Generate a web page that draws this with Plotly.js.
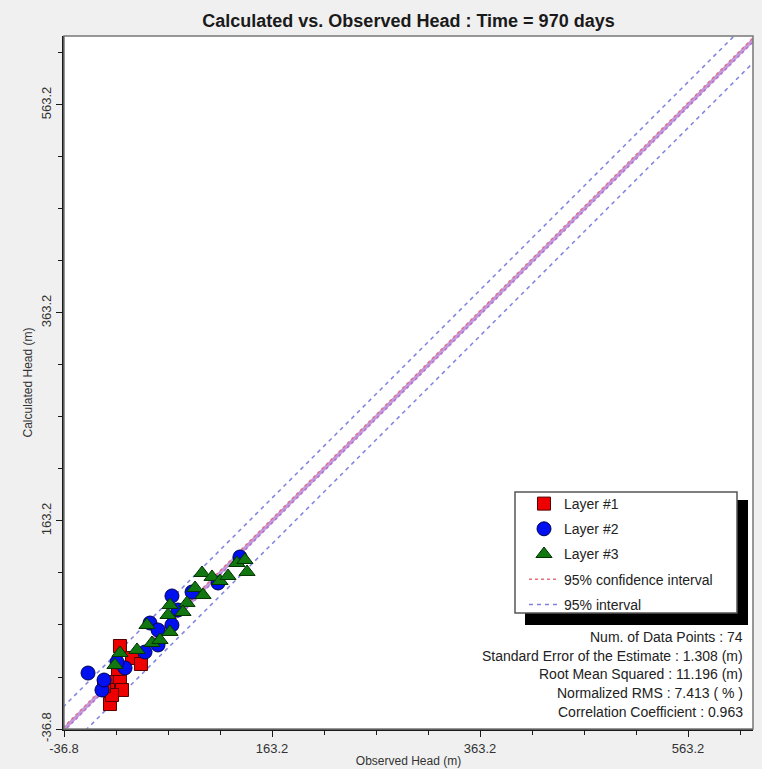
<!DOCTYPE html>
<html>
<head>
<meta charset="utf-8">
<script src="https://cdn.plot.ly/plotly-3.0.1.min.js"></script>
<style>html,body{margin:0;padding:0;background:#f0f0f0;}</style>
</head>
<body>
<div id="chart" style="width:762px;height:769px;"></div>
<script>
// ---- Data ----
const layer1X = [17.0, 28.6, 37.2, 4.5, 17.0, 19.0, 5.5, 7.4, 9.4, 15.1, 1.7];
const layer1Y = [43.0, 31.5, 25.7, 8.4, 11.3, 0.7, 0.7, -12.8, -4.1, 20.9, 4.5];

const layer2X = [-13.7, -0.3, 21.9, 41.1, 53.6, 45.9, 53.6, 67.0, 67.0, 86.3, 111.3, 132.4, 14.2, 72.8, 1.7];
const layer2Y = [17.0, 0.7, 21.9, 37.2, 44.0, 65.1, 58.4, 91.1, 63.2, 94.9, 103.6, 128.6, 27.6, 77.6, 10.3];

const layer3X = [17.0, 12.2, 33.4, 47.8, 43.0, 65.1, 63.2, 65.1, 81.5, 77.6, 89.2, 96.9, 95.9, 105.5, 113.2, 120.9, 129.5, 137.2, 139.2, 55.5];
const layer3Y = [36.3, 24.7, 39.2, 45.9, 63.2, 82.4, 72.8, 56.5, 84.4, 75.7, 98.8, 92.0, 113.2, 109.4, 105.5, 110.3, 122.8, 125.7, 114.2, 48.8];

const axisMin = -36.8;
const axisMaxX = 625.7;
const axisMaxY = 629.5;
const tickValues = [-36.8, 163.2, 363.2, 563.2];
const tickLabels = ["-36.8", "163.2", "363.2", "563.2"];

const confOffset = 2.0;      // 95% confidence interval half-width (m)
const predOffset = 22.0;     // 95% interval half-width (m)

const statLines = [
  "Num. of Data Points : 74",
  "Standard Error of the Estimate : 1.308 (m)",
  "Root Mean Squared : 11.196 (m)",
  "Normalized RMS : 7.413 ( % )",
  "Correlation Coefficient : 0.963"
];

// ---- Build traces ----
const lineX = [axisMin - 50, axisMaxX + 50];
const shift = (arr, d) => arr.map(v => v + d);

const traces = [
  {x: lineX, y: lineX, mode: 'lines', showlegend: false, hoverinfo: 'skip',
   line: {color: '#c39be0', width: 3.5}},
  {x: lineX, y: shift(lineX, confOffset), mode: 'lines', name: '95% confidence interval',
   legendgroup: 'g4', legendrank: 4, line: {color: '#e0707e', width: 1.5, dash: '3px,3px'}},
  {x: lineX, y: shift(lineX, -confOffset), mode: 'lines', showlegend: false, legendgroup: 'g4',
   line: {color: '#b070d0', width: 1.5, dash: '3px,3px'}},
  {x: lineX, y: shift(lineX, predOffset), mode: 'lines', name: '95% interval',
   legendgroup: 'g5', legendrank: 5, line: {color: '#7f80e0', width: 1.5, dash: '4px,4px'}},
  {x: lineX, y: shift(lineX, -predOffset), mode: 'lines', showlegend: false, legendgroup: 'g5',
   line: {color: '#7f80e0', width: 1.5, dash: '4px,4px'}},
  {x: layer1X, y: layer1Y, mode: 'markers', name: 'Layer #1', legendgroup: 'g1', legendrank: 1,
   marker: {symbol: 'square', size: 13, color: '#ee0000', line: {color: '#550000', width: 1}}},
  {x: layer2X, y: layer2Y, mode: 'markers', name: 'Layer #2', legendgroup: 'g2', legendrank: 2,
   marker: {symbol: 'circle', size: 14, color: '#0010ee', line: {color: '#000055', width: 1}}},
  {x: layer3X, y: layer3Y, mode: 'markers', name: 'Layer #3', legendgroup: 'g3', legendrank: 3,
   marker: {symbol: 'triangle-up', size: 14, color: '#117711', line: {color: '#003300', width: 1}}}
];

const plotL = 64, plotR = 753, plotT = 36, plotB = 729;
const pw = plotR - plotL, ph = plotB - plotT;
const px = v => (v - plotL) / pw;
const py = v => (plotB - v) / ph;

const statAnn = statLines.map((t, i) => ({
  xref: 'paper', yref: 'paper', x: px(745), y: py(637 + i * 18.7),
  xanchor: 'right', yanchor: 'middle', showarrow: false, text: t,
  font: {family: 'Arial, Liberation Sans, sans-serif', size: 14, color: '#222'}
}));

const axisCommon = {
  showgrid: false, zeroline: false, showline: true, linecolor: '#1a1a1a', linewidth: 2,
  ticks: 'outside', ticklen: 6, tickwidth: 1, tickcolor: '#1a1a1a',
  tickmode: 'array', tickvals: tickValues, ticktext: tickLabels,
  tickfont: {family: 'Arial, Liberation Sans, sans-serif', size: 13, color: '#333'},
  minor: {tick0: axisMin, dtick: 50, ticks: 'outside', ticklen: 4, tickwidth: 1, tickcolor: '#1a1a1a'},
  mirror: false, fixedrange: true
};

const layout = {
  width: 762, height: 769,
  paper_bgcolor: '#f0f0f0', plot_bgcolor: '#ffffff',
  margin: {l: plotL, r: 762 - plotR, t: plotT, b: 769 - plotB, pad: 0},
  title: {text: '<b>Calculated vs. Observed Head : Time = 970 days</b>',
          font: {family: 'Arial, Liberation Sans, sans-serif', size: 18, color: '#1a1a1a'},
          xref: 'paper', x: 0.5, xanchor: 'center', yref: 'container', y: 1 - 21 / 769, yanchor: 'middle'},
  xaxis: Object.assign({}, axisCommon, {
    range: [axisMin, axisMaxX],
    title: {text: 'Observed Head (m)', standoff: 2,
            font: {family: 'Arial, Liberation Sans, sans-serif', size: 12, color: '#333'}}
  }),
  yaxis: Object.assign({}, axisCommon, {
    range: [axisMin, axisMaxY], tickangle: -90,
    title: {text: 'Calculated Head (m)', standoff: 4,
            font: {family: 'Arial, Liberation Sans, sans-serif', size: 12, color: '#333'}}
  }),
  showlegend: true,
  legend: {
    x: px(524), y: py(488), xanchor: 'left', yanchor: 'top',
    bgcolor: 'rgba(0,0,0,0)', borderwidth: 0,
    traceorder: 'grouped', tracegroupgap: 4,
    font: {family: 'Arial, Liberation Sans, sans-serif', size: 14, color: '#222'}
  },
  shapes: [
    {type: 'rect', xref: 'paper', yref: 'paper', x0: 0, x1: 1, y0: 0, y1: 1,
     line: {color: '#777', width: 1.5}, fillcolor: 'rgba(0,0,0,0)', layer: 'above'},
    {type: 'rect', xref: 'paper', yref: 'paper', x0: px(525), x1: px(748), y0: py(625), y1: py(500),
     line: {width: 0}, fillcolor: '#000', layer: 'above'},
    {type: 'rect', xref: 'paper', yref: 'paper', x0: px(515), x1: px(737), y0: py(613), y1: py(492),
     line: {color: '#555', width: 1.5}, fillcolor: '#fff', layer: 'above'}
  ],
  annotations: statAnn
};

Plotly.newPlot('chart', traces, layout, {displayModeBar: false, staticPlot: true});
</script>
</body>
</html>
